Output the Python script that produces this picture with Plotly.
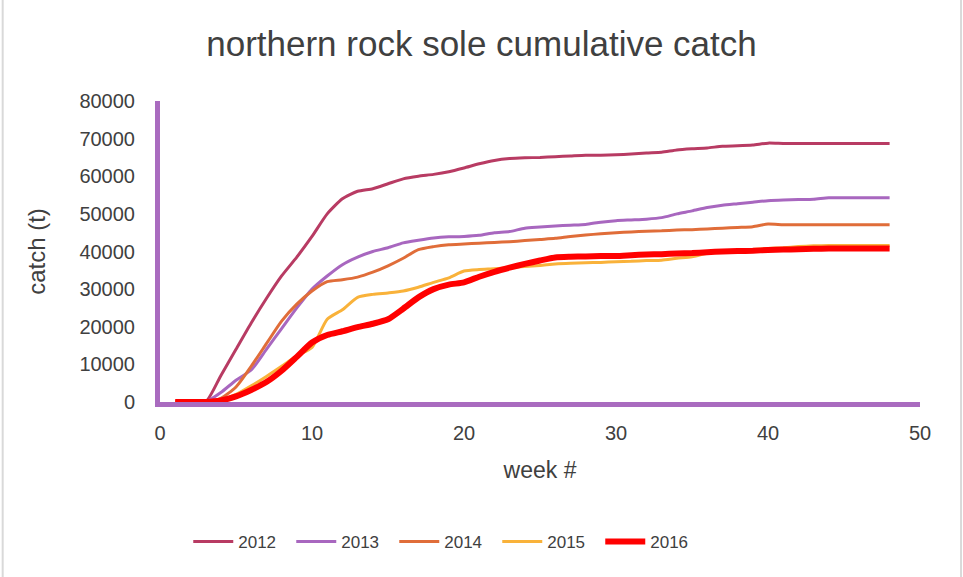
import plotly.graph_objects as go

# cumulative catch (t) by week
weeks = list(range(1, 49))

catch_2012 = [0, 0, 0, 7000, 14000, 21000, 27500, 33500, 38500, 44000,
              50000, 54000, 56000, 56700, 58000, 59300, 60000, 60500, 61200, 62200,
              63300, 64200, 64700, 64900, 65000, 65200, 65400, 65600, 65600, 65700,
              65900, 66200, 66400, 67000, 67300, 67500, 68000, 68100, 68300, 68800,
              68700, 68700, 68700, 68700, 68700, 68700, 68700, 68700]
catch_2013 = [0, 0, 0, 2500, 5800, 8500, 14000, 19500, 25000, 30000,
              33500, 36500, 38500, 40000, 41000, 42300, 43000, 43600, 43900, 44000,
              44300, 45000, 45300, 46200, 46500, 46800, 47000, 47200, 47800, 48200,
              48400, 48600, 49000, 50000, 50800, 51700, 52300, 52700, 53100, 53500,
              53700, 53800, 53900, 54300, 54300, 54300, 54300, 54300]
catch_2014 = [0, 0, 0, 1000, 4000, 9500, 15500, 21500, 26000, 29500,
              32000, 32500, 33200, 34500, 36200, 38200, 40500, 41300, 41800, 42000,
              42200, 42400, 42600, 42900, 43200, 43500, 44000, 44400, 44700, 45000,
              45200, 45400, 45500, 45700, 45800, 46000, 46200, 46400, 46600, 47300,
              47100, 47100, 47100, 47100, 47100, 47100, 47100, 47100]
catch_2015 = [0, 0, 0, 500, 2000, 4300, 6800, 9500, 12300, 14500,
              22000, 24500, 27800, 28600, 29000, 29500, 30500, 31800, 33000, 34800,
              35200, 35400, 35700, 36000, 36300, 36700, 36900, 37000, 37100, 37300,
              37400, 37600, 37700, 38200, 38600, 39500, 39900, 40200, 40500, 40800,
              41000, 41300, 41500, 41600, 41600, 41600, 41600, 41600]
catch_2016 = [0, 0, 0, 400, 1500, 3200, 5300, 8300, 12000, 15800,
              17800, 18800, 19900, 20800, 22000, 24800, 27800, 30000, 31200, 31800,
              33300, 34600, 35700, 36700, 37600, 38400, 38600, 38700, 38800, 38800,
              39000, 39200, 39300, 39500, 39600, 39800, 40000, 40100, 40200, 40400,
              40500, 40600, 40700, 40800, 40800, 40800, 40800, 40800]

series = [
    ("2012", catch_2012, "#B83B63", 3),
    ("2013", catch_2013, "#A867BF", 3),
    ("2014", catch_2014, "#E06D39", 3),
    ("2015", catch_2015, "#F9B23A", 3),
    ("2016", catch_2016, "#FF0000", 6),
]

FONT = "Liberation Sans, Arial, sans-serif"
TEXT = "#404040"
AXIS = "#A96BBF"

fig = go.Figure()
for name, values, color, width in series:
    fig.add_trace(
        go.Scatter(
            x=weeks,
            y=values,
            name=name,
            mode="lines",
            line=dict(color=color, width=width, shape="spline", smoothing=0.6),
        )
    )

# light grey frame edges on the left and right
for xp in (-0.207, 1.054):
    fig.add_shape(type="line", xref="paper", yref="paper",
                  x0=xp, x1=xp, y0=-0.59, y1=1.34,
                  line=dict(color="#D9D9D9", width=2))

fig.update_layout(
    width=963,
    height=577,
    margin=dict(l=160, r=43, t=101, b=175),
    paper_bgcolor="white",
    plot_bgcolor="white",
    font=dict(family=FONT, color=TEXT, size=20),
    title=dict(text="northern rock sole cumulative catch", x=0.5, xref="container",
               xanchor="center", y=0.925, yanchor="middle",
               font=dict(size=35, color=TEXT)),
    showlegend=True,
    legend=dict(orientation="h", x=0.376, xanchor="center", y=-0.465, yanchor="middle",
                font=dict(size=17, color=TEXT), itemwidth=40,
                entrywidth=48, entrywidthmode="pixels"),
)

fig.update_xaxes(
    range=[0, 50], dtick=10, showgrid=False, zeroline=False,
    showline=True, linecolor=AXIS, linewidth=5,
    ticks="", ticklabelstandoff=9,
    title=dict(text="week #", font=dict(size=23, color=TEXT), standoff=20),
    tickfont=dict(size=20, color=TEXT),
)
fig.update_yaxes(
    range=[0, 80000], dtick=10000, tickformat="d", showgrid=False, zeroline=False,
    showline=True, linecolor=AXIS, linewidth=5,
    ticks="", ticklabelstandoff=16,
    title=dict(text="catch (t)", font=dict(size=24, color=TEXT), standoff=28),
    tickfont=dict(size=20, color=TEXT),
)

fig.write_html("out.html", config={"displayModeBar": False},
               post_script="document.body.style.margin='0';")
